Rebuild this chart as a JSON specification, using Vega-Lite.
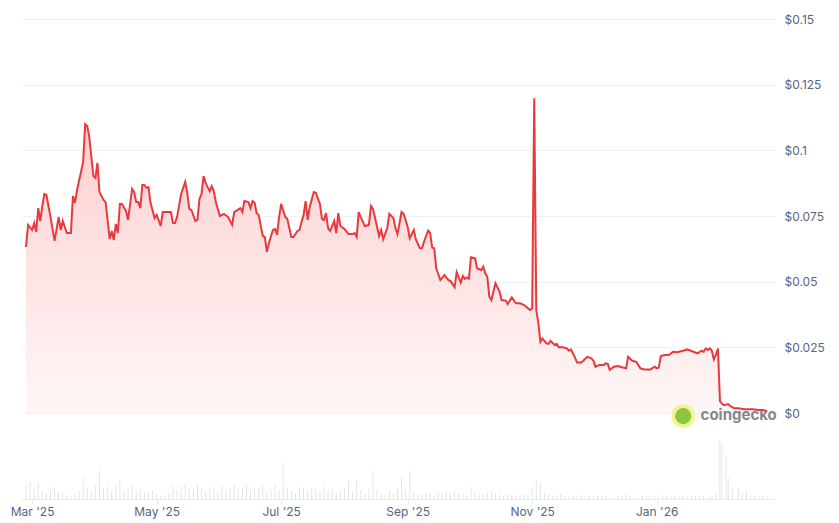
{
  "$schema": "https://vega.github.io/schema/vega-lite/v6.json",
  "width": 755,
  "height": 480,
  "autosize": {"type": "none"},
  "padding": {"left": 21, "top": 19, "right": 63, "bottom": 24},
  "background": "white",
  "config": {"view": {"stroke": null}, "font": "Inter"},
  "datasets": {
    "price": [
      {"date":"2025-02-26","price":0.0632},{"date":"2025-02-27","price":0.0716},{"date":"2025-03-01","price":0.0697},{"date":"2025-03-02","price":0.0723},{"date":"2025-03-03","price":0.0689},{"date":"2025-03-04","price":0.078},{"date":"2025-03-05","price":0.0731},{"date":"2025-03-06","price":0.0788},{"date":"2025-03-07","price":0.0834},{"date":"2025-03-08","price":0.083},{"date":"2025-03-10","price":0.0746},{"date":"2025-03-12","price":0.0655},{"date":"2025-03-14","price":0.0746},{"date":"2025-03-15","price":0.0697},{"date":"2025-03-16","price":0.0731},{"date":"2025-03-17","price":0.0708},{"date":"2025-03-18","price":0.0685},{"date":"2025-03-20","price":0.0685},{"date":"2025-03-21","price":0.0826},{"date":"2025-03-22","price":0.08},{"date":"2025-03-23","price":0.0849},{"date":"2025-03-26","price":0.0956},{"date":"2025-03-27","price":0.110},{"date":"2025-03-28","price":0.1093},{"date":"2025-03-29","price":0.1051},{"date":"2025-03-31","price":0.0902},{"date":"2025-04-01","price":0.0895},{"date":"2025-04-02","price":0.0952},{"date":"2025-04-03","price":0.0841},{"date":"2025-04-05","price":0.0811},{"date":"2025-04-06","price":0.0803},{"date":"2025-04-08","price":0.0662},{"date":"2025-04-09","price":0.0693},{"date":"2025-04-10","price":0.0659},{"date":"2025-04-11","price":0.072},{"date":"2025-04-12","price":0.0685},{"date":"2025-04-13","price":0.0796},{"date":"2025-04-14","price":0.0796},{"date":"2025-04-16","price":0.0769},{"date":"2025-04-17","price":0.0735},{"date":"2025-04-19","price":0.0853},{"date":"2025-04-20","price":0.0841},{"date":"2025-04-21","price":0.0803},{"date":"2025-04-22","price":0.0803},{"date":"2025-04-23","price":0.078},{"date":"2025-04-24","price":0.0868},{"date":"2025-04-25","price":0.0868},{"date":"2025-04-26","price":0.0857},{"date":"2025-04-27","price":0.086},{"date":"2025-04-28","price":0.08},{"date":"2025-04-30","price":0.0742},{"date":"2025-05-01","price":0.0754},{"date":"2025-05-03","price":0.0712},{"date":"2025-05-04","price":0.0765},{"date":"2025-05-06","price":0.0765},{"date":"2025-05-08","price":0.0765},{"date":"2025-05-09","price":0.0723},{"date":"2025-05-10","price":0.0723},{"date":"2025-05-11","price":0.0746},{"date":"2025-05-13","price":0.0834},{"date":"2025-05-15","price":0.088},{"date":"2025-05-16","price":0.0838},{"date":"2025-05-17","price":0.0777},{"date":"2025-05-18","price":0.0773},{"date":"2025-05-20","price":0.0731},{"date":"2025-05-21","price":0.0735},{"date":"2025-05-22","price":0.0815},{"date":"2025-05-23","price":0.0834},{"date":"2025-05-24","price":0.0902},{"date":"2025-05-25","price":0.0876},{"date":"2025-05-26","price":0.086},{"date":"2025-05-27","price":0.0845},{"date":"2025-05-28","price":0.0864},{"date":"2025-05-29","price":0.0845},{"date":"2025-05-30","price":0.0803},{"date":"2025-06-01","price":0.075},{"date":"2025-06-03","price":0.0758},{"date":"2025-06-05","price":0.0746},{"date":"2025-06-07","price":0.0716},{"date":"2025-06-08","price":0.0765},{"date":"2025-06-11","price":0.078},{"date":"2025-06-12","price":0.0765},{"date":"2025-06-13","price":0.0807},{"date":"2025-06-15","price":0.0803},{"date":"2025-06-16","price":0.078},{"date":"2025-06-17","price":0.0807},{"date":"2025-06-18","price":0.08},{"date":"2025-06-19","price":0.0761},{"date":"2025-06-20","price":0.0754},{"date":"2025-06-22","price":0.0674},{"date":"2025-06-23","price":0.067},{"date":"2025-06-24","price":0.0613},{"date":"2025-06-25","price":0.0647},{"date":"2025-06-27","price":0.0697},{"date":"2025-06-28","price":0.0701},{"date":"2025-06-29","price":0.0678},{"date":"2025-06-30","price":0.0746},{"date":"2025-07-01","price":0.0796},{"date":"2025-07-03","price":0.0746},{"date":"2025-07-04","price":0.0739},{"date":"2025-07-06","price":0.067},{"date":"2025-07-07","price":0.067},{"date":"2025-07-09","price":0.0693},{"date":"2025-07-10","price":0.0697},{"date":"2025-07-11","price":0.0727},{"date":"2025-07-12","price":0.0754},{"date":"2025-07-13","price":0.0807},{"date":"2025-07-14","price":0.0735},{"date":"2025-07-15","price":0.0784},{"date":"2025-07-17","price":0.0841},{"date":"2025-07-18","price":0.0838},{"date":"2025-07-20","price":0.0796},{"date":"2025-07-21","price":0.0739},{"date":"2025-07-22","price":0.0735},{"date":"2025-07-23","price":0.0761},{"date":"2025-07-24","price":0.0704},{"date":"2025-07-25","price":0.0693},{"date":"2025-07-27","price":0.0731},{"date":"2025-07-28","price":0.0685},{"date":"2025-07-29","price":0.0761},{"date":"2025-07-30","price":0.0712},{"date":"2025-08-01","price":0.0701},{"date":"2025-08-03","price":0.0681},{"date":"2025-08-05","price":0.0681},{"date":"2025-08-06","price":0.0685},{"date":"2025-08-07","price":0.067},{"date":"2025-08-08","price":0.0765},{"date":"2025-08-09","price":0.0746},{"date":"2025-08-11","price":0.0712},{"date":"2025-08-13","price":0.0716},{"date":"2025-08-14","price":0.0788},{"date":"2025-08-15","price":0.0777},{"date":"2025-08-18","price":0.0674},{"date":"2025-08-19","price":0.0697},{"date":"2025-08-20","price":0.0662},{"date":"2025-08-22","price":0.0704},{"date":"2025-08-23","price":0.0758},{"date":"2025-08-25","price":0.0742},{"date":"2025-08-26","price":0.0704},{"date":"2025-08-27","price":0.0681},{"date":"2025-08-29","price":0.0765},{"date":"2025-08-30","price":0.0758},{"date":"2025-08-31","price":0.0735},{"date":"2025-09-01","price":0.0708},{"date":"2025-09-02","price":0.0665},{"date":"2025-09-04","price":0.0697},{"date":"2025-09-05","price":0.0661},{"date":"2025-09-07","price":0.0627},{"date":"2025-09-08","price":0.0627},{"date":"2025-09-09","price":0.0652},{"date":"2025-09-11","price":0.0694},{"date":"2025-09-12","price":0.0686},{"date":"2025-09-13","price":0.0629},{"date":"2025-09-14","price":0.0627},{"date":"2025-09-15","price":0.0551},{"date":"2025-09-17","price":0.0506},{"date":"2025-09-19","price":0.0525},{"date":"2025-09-21","price":0.0506},{"date":"2025-09-22","price":0.0502},{"date":"2025-09-24","price":0.0479},{"date":"2025-09-25","price":0.0536},{"date":"2025-09-27","price":0.0496},{"date":"2025-09-28","price":0.0522},{"date":"2025-09-29","price":0.0511},{"date":"2025-09-30","price":0.0516},{"date":"2025-10-01","price":0.0511},{"date":"2025-10-02","price":0.0593},{"date":"2025-10-04","price":0.0589},{"date":"2025-10-05","price":0.0551},{"date":"2025-10-07","price":0.0544},{"date":"2025-10-08","price":0.0557},{"date":"2025-10-09","price":0.0532},{"date":"2025-10-10","price":0.0519},{"date":"2025-10-11","price":0.0443},{"date":"2025-10-12","price":0.043},{"date":"2025-10-14","price":0.0494},{"date":"2025-10-16","price":0.0462},{"date":"2025-10-17","price":0.043},{"date":"2025-10-19","price":0.0428},{"date":"2025-10-20","price":0.0415},{"date":"2025-10-22","price":0.044},{"date":"2025-10-24","price":0.0418},{"date":"2025-10-26","price":0.0418},{"date":"2025-10-28","price":0.0411},{"date":"2025-10-29","price":0.0405},{"date":"2025-10-31","price":0.0392},{"date":"2025-11-01","price":0.0399},{"date":"2025-11-02","price":0.1198},{"date":"2025-11-03","price":0.0392},{"date":"2025-11-04","price":0.0343},{"date":"2025-11-05","price":0.0271},{"date":"2025-11-06","price":0.0284},{"date":"2025-11-08","price":0.0265},{"date":"2025-11-09","price":0.0263},{"date":"2025-11-10","price":0.0275},{"date":"2025-11-12","price":0.0259},{"date":"2025-11-13","price":0.0263},{"date":"2025-11-14","price":0.025},{"date":"2025-11-16","price":0.025},{"date":"2025-11-18","price":0.0246},{"date":"2025-11-19","price":0.0237},{"date":"2025-11-20","price":0.0242},{"date":"2025-11-22","price":0.0211},{"date":"2025-11-23","price":0.0192},{"date":"2025-11-25","price":0.0192},{"date":"2025-11-26","price":0.0199},{"date":"2025-11-28","price":0.0214},{"date":"2025-11-30","price":0.0208},{"date":"2025-12-01","price":0.0199},{"date":"2025-12-02","price":0.0176},{"date":"2025-12-04","price":0.0183},{"date":"2025-12-06","price":0.0183},{"date":"2025-12-07","price":0.0189},{"date":"2025-12-08","price":0.0187},{"date":"2025-12-09","price":0.0164},{"date":"2025-12-11","price":0.0176},{"date":"2025-12-13","price":0.0179},{"date":"2025-12-15","price":0.0174},{"date":"2025-12-17","price":0.017},{"date":"2025-12-18","price":0.0214},{"date":"2025-12-20","price":0.0199},{"date":"2025-12-22","price":0.0195},{"date":"2025-12-24","price":0.017},{"date":"2025-12-26","price":0.0166},{"date":"2025-12-29","price":0.0166},{"date":"2025-12-31","price":0.0176},{"date":"2026-01-01","price":0.017},{"date":"2026-01-02","price":0.0173},{"date":"2026-01-03","price":0.0217},{"date":"2026-01-05","price":0.0221},{"date":"2026-01-07","price":0.0221},{"date":"2026-01-09","price":0.0233},{"date":"2026-01-11","price":0.0231},{"date":"2026-01-14","price":0.0237},{"date":"2026-01-16","price":0.0242},{"date":"2026-01-19","price":0.0233},{"date":"2026-01-21","price":0.0227},{"date":"2026-01-23","price":0.0237},{"date":"2026-01-24","price":0.0233},{"date":"2026-01-25","price":0.0246},{"date":"2026-01-26","price":0.024},{"date":"2026-01-27","price":0.0246},{"date":"2026-01-28","price":0.0238},{"date":"2026-01-29","price":0.0204},{"date":"2026-01-30","price":0.0221},{"date":"2026-01-31","price":0.0245},{"date":"2026-02-01","price":0.0045},{"date":"2026-02-02","price":0.0035},{"date":"2026-02-03","price":0.003},{"date":"2026-02-05","price":0.0034},{"date":"2026-02-06","price":0.0027},{"date":"2026-02-08","price":0.0018},{"date":"2026-02-10","price":0.0018},{"date":"2026-02-13","price":0.0014},{"date":"2026-02-17","price":0.0014},{"date":"2026-02-20","price":0.0011},{"date":"2026-02-22","price":0.0011},{"date":"2026-02-24","price":0.0008}
    ],
    "vol": [
      {"date":"2025-02-26","vol":14},{"date":"2025-02-28","vol":18},{"date":"2025-03-02","vol":10},{"date":"2025-03-04","vol":16},{"date":"2025-03-06","vol":8},{"date":"2025-03-08","vol":6},{"date":"2025-03-10","vol":9},{"date":"2025-03-12","vol":12},{"date":"2025-03-14","vol":7},{"date":"2025-03-16","vol":5},{"date":"2025-03-18","vol":4},{"date":"2025-03-20","vol":3},{"date":"2025-03-22","vol":6},{"date":"2025-03-24","vol":8},{"date":"2025-03-26","vol":21},{"date":"2025-03-28","vol":12},{"date":"2025-03-30","vol":9},{"date":"2025-04-01","vol":14},{"date":"2025-04-03","vol":28},{"date":"2025-04-05","vol":10},{"date":"2025-04-07","vol":12},{"date":"2025-04-09","vol":8},{"date":"2025-04-11","vol":14},{"date":"2025-04-13","vol":19},{"date":"2025-04-15","vol":9},{"date":"2025-04-17","vol":12},{"date":"2025-04-19","vol":15},{"date":"2025-04-21","vol":8},{"date":"2025-04-23","vol":10},{"date":"2025-04-25","vol":7},{"date":"2025-04-27","vol":6},{"date":"2025-04-29","vol":9},{"date":"2025-05-01","vol":5},{"date":"2025-05-03","vol":4},{"date":"2025-05-05","vol":3},{"date":"2025-05-07","vol":5},{"date":"2025-05-09","vol":13},{"date":"2025-05-11","vol":9},{"date":"2025-05-13","vol":12},{"date":"2025-05-15","vol":15},{"date":"2025-05-17","vol":10},{"date":"2025-05-19","vol":9},{"date":"2025-05-21","vol":14},{"date":"2025-05-23","vol":11},{"date":"2025-05-25","vol":8},{"date":"2025-05-27","vol":12},{"date":"2025-05-29","vol":10},{"date":"2025-05-31","vol":8},{"date":"2025-06-02","vol":13},{"date":"2025-06-04","vol":9},{"date":"2025-06-06","vol":11},{"date":"2025-06-08","vol":15},{"date":"2025-06-10","vol":10},{"date":"2025-06-12","vol":12},{"date":"2025-06-14","vol":14},{"date":"2025-06-16","vol":9},{"date":"2025-06-18","vol":12},{"date":"2025-06-20","vol":10},{"date":"2025-06-22","vol":13},{"date":"2025-06-24","vol":8},{"date":"2025-06-26","vol":10},{"date":"2025-06-28","vol":14},{"date":"2025-06-30","vol":9},{"date":"2025-07-02","vol":36},{"date":"2025-07-04","vol":12},{"date":"2025-07-06","vol":8},{"date":"2025-07-08","vol":6},{"date":"2025-07-10","vol":10},{"date":"2025-07-12","vol":12},{"date":"2025-07-14","vol":9},{"date":"2025-07-16","vol":11},{"date":"2025-07-18","vol":10},{"date":"2025-07-20","vol":8},{"date":"2025-07-22","vol":12},{"date":"2025-07-24","vol":9},{"date":"2025-07-26","vol":10},{"date":"2025-07-28","vol":7},{"date":"2025-07-30","vol":9},{"date":"2025-08-01","vol":11},{"date":"2025-08-03","vol":19},{"date":"2025-08-05","vol":8},{"date":"2025-08-07","vol":19},{"date":"2025-08-09","vol":9},{"date":"2025-08-11","vol":6},{"date":"2025-08-13","vol":10},{"date":"2025-08-15","vol":28},{"date":"2025-08-17","vol":9},{"date":"2025-08-19","vol":6},{"date":"2025-08-21","vol":5},{"date":"2025-08-23","vol":8},{"date":"2025-08-25","vol":6},{"date":"2025-08-27","vol":10},{"date":"2025-08-29","vol":21},{"date":"2025-08-31","vol":9},{"date":"2025-09-02","vol":28},{"date":"2025-09-04","vol":7},{"date":"2025-09-06","vol":5},{"date":"2025-09-08","vol":4},{"date":"2025-09-10","vol":6},{"date":"2025-09-12","vol":5},{"date":"2025-09-14","vol":4},{"date":"2025-09-16","vol":6},{"date":"2025-09-18","vol":5},{"date":"2025-09-20","vol":7},{"date":"2025-09-22","vol":5},{"date":"2025-09-24","vol":8},{"date":"2025-09-26","vol":6},{"date":"2025-09-28","vol":5},{"date":"2025-09-30","vol":4},{"date":"2025-10-02","vol":12},{"date":"2025-10-04","vol":6},{"date":"2025-10-06","vol":4},{"date":"2025-10-08","vol":5},{"date":"2025-10-10","vol":6},{"date":"2025-10-12","vol":7},{"date":"2025-10-14","vol":5},{"date":"2025-10-16","vol":4},{"date":"2025-10-18","vol":3},{"date":"2025-10-20","vol":5},{"date":"2025-10-22","vol":4},{"date":"2025-10-24","vol":3},{"date":"2025-10-26","vol":4},{"date":"2025-10-28","vol":5},{"date":"2025-10-30","vol":6},{"date":"2025-11-01","vol":12},{"date":"2025-11-03","vol":19},{"date":"2025-11-05","vol":17},{"date":"2025-11-07","vol":6},{"date":"2025-11-09","vol":4},{"date":"2025-11-11","vol":3},{"date":"2025-11-13","vol":4},{"date":"2025-11-15","vol":5},{"date":"2025-11-17","vol":3},{"date":"2025-11-19","vol":2},{"date":"2025-11-21","vol":3},{"date":"2025-11-23","vol":4},{"date":"2025-11-25","vol":3},{"date":"2025-11-27","vol":2},{"date":"2025-11-29","vol":3},{"date":"2025-12-01","vol":2},{"date":"2025-12-03","vol":3},{"date":"2025-12-05","vol":2},{"date":"2025-12-07","vol":3},{"date":"2025-12-09","vol":2},{"date":"2025-12-11","vol":2},{"date":"2025-12-13","vol":3},{"date":"2025-12-15","vol":2},{"date":"2025-12-17","vol":5},{"date":"2025-12-19","vol":3},{"date":"2025-12-21","vol":2},{"date":"2025-12-23","vol":2},{"date":"2025-12-25","vol":3},{"date":"2025-12-27","vol":2},{"date":"2025-12-29","vol":2},{"date":"2025-12-31","vol":3},{"date":"2026-01-02","vol":2},{"date":"2026-01-04","vol":4},{"date":"2026-01-06","vol":3},{"date":"2026-01-08","vol":2},{"date":"2026-01-10","vol":3},{"date":"2026-01-12","vol":2},{"date":"2026-01-14","vol":3},{"date":"2026-01-16","vol":2},{"date":"2026-01-18","vol":2},{"date":"2026-01-20","vol":3},{"date":"2026-01-22","vol":2},{"date":"2026-01-24","vol":3},{"date":"2026-01-26","vol":2},{"date":"2026-01-28","vol":3},{"date":"2026-01-30","vol":5},{"date":"2026-02-01","vol":59},{"date":"2026-02-02","vol":53},{"date":"2026-02-04","vol":43},{"date":"2026-02-05","vol":21},{"date":"2026-02-07","vol":11},{"date":"2026-02-10","vol":11},{"date":"2026-02-12","vol":5},{"date":"2026-02-14","vol":7},{"date":"2026-02-16","vol":4},{"date":"2026-02-18","vol":3},{"date":"2026-02-20","vol":2},{"date":"2026-02-22","vol":3},{"date":"2026-02-24","vol":2}
    ]
  },
  "encoding": {
    "x": {
      "field": "date",
      "type": "temporal",
      "scale": {
        "type": "utc",
        "domain": [{"year": 2025, "month": 2, "date": 26, "utc": true}, {"year": 2026, "month": 2, "date": 26, "utc": true}],
        "nice": false
      },
      "axis": {
        "title": null,
        "format": "%b '%y",
        "values": [
          {"year": 2025, "month": 3, "date": 1, "utc": true},
          {"year": 2025, "month": 5, "date": 1, "utc": true},
          {"year": 2025, "month": 7, "date": 1, "utc": true},
          {"year": 2025, "month": 9, "date": 1, "utc": true},
          {"year": 2025, "month": 11, "date": 1, "utc": true},
          {"year": 2026, "month": 1, "date": 1, "utc": true}
        ],
        "grid": false,
        "domain": true,
        "domainColor": "#e9ecf0",
        "domainWidth": 1,
        "ticks": true,
        "tickColor": "#e9ecf0",
        "tickSize": 5,
        "labelPadding": 2,
        "labelFontSize": 12,
        "labelColor": "#58667e",
        "labelFlush": 10,
        "labelFlushOffset": 6
      }
    }
  },
  "layer": [
    {
      "data": {"name": "vol"},
      "mark": {"type": "bar", "width": 1, "color": "#e1e5eb"},
      "encoding": {
        "y": {
          "field": "vol",
          "type": "quantitative",
          "scale": {"domain": [0, 60], "range": [480, 420], "nice": false},
          "axis": null
        }
      }
    },
    {
      "layer": [
        {
          "data": {"name": "price"},
          "mark": {
            "type": "area",
            "color": {
              "gradient": "linear",
              "x1": 0, "y1": 0, "x2": 0, "y2": 1,
              "stops": [
                {"offset": 0, "color": "#ffc8c8"},
                {"offset": 0.35, "color": "#fddcdc"},
                {"offset": 1, "color": "#fff6f6"}
              ]
            }
          },
          "encoding": {
            "y": {
              "field": "price",
              "type": "quantitative",
              "scale": {"domain": [0, 0.15], "range": [394, 0], "nice": false},
              "axis": {
                "orient": "right",
                "title": null,
                "values": [0, 0.025, 0.05, 0.075, 0.1, 0.125, 0.15],
                "labelExpr": "'$' + datum.value",
                "grid": true,
                "gridColor": "#eff2f5",
                "domain": false,
                "ticks": false,
                "labelPadding": 8,
                "labelFontSize": 12,
                "labelColor": "#58667e"
              }
            }
          }
        },
        {
          "data": {"name": "price"},
          "mark": {"type": "line", "color": "#e8393c", "strokeWidth": 2},
          "encoding": {
            "y": {"field": "price", "type": "quantitative"}
          }
        },
        {
          "data": {"values": [{"label": "coingecko", "date": "2026-01-12", "price": 0.001}]},
          "mark": {"type": "point", "filled": true, "color": "#eef27a", "opacity": 0.8, "size": 560},
          "encoding": {
            "x": {"datum": {"year": 2026, "month": 1, "date": 14, "utc": true}, "type": "temporal"},
            "y": {"datum": -0.0012, "type": "quantitative"}
          }
        },
        {
          "data": {"values": [{"label": "coingecko", "date": "2026-01-12", "price": 0.001}]},
          "mark": {"type": "point", "filled": true, "color": "#8cc63f", "opacity": 1, "size": 260},
          "encoding": {
            "x": {"datum": {"year": 2026, "month": 1, "date": 14, "utc": true}, "type": "temporal"},
            "y": {"datum": -0.0012, "type": "quantitative"}
          }
        },
        {
          "data": {"values": [{"label": "coingecko", "date": "2026-01-12", "price": 0.001}]},
          "mark": {"type": "text", "align": "left", "baseline": "middle", "fontSize": 15, "fontWeight": "bold", "color": "#6f7378", "opacity": 0.85},
          "encoding": {
            "x": {"datum": {"year": 2026, "month": 1, "date": 22, "hours": 12, "utc": true}, "type": "temporal"},
            "y": {"datum": -0.0008, "type": "quantitative"},
            "text": {"field": "label"}
          }
        }
      ]
    }
  ],
  "resolve": {"scale": {"y": "independent"}, "axis": {"y": "independent"}}
}
